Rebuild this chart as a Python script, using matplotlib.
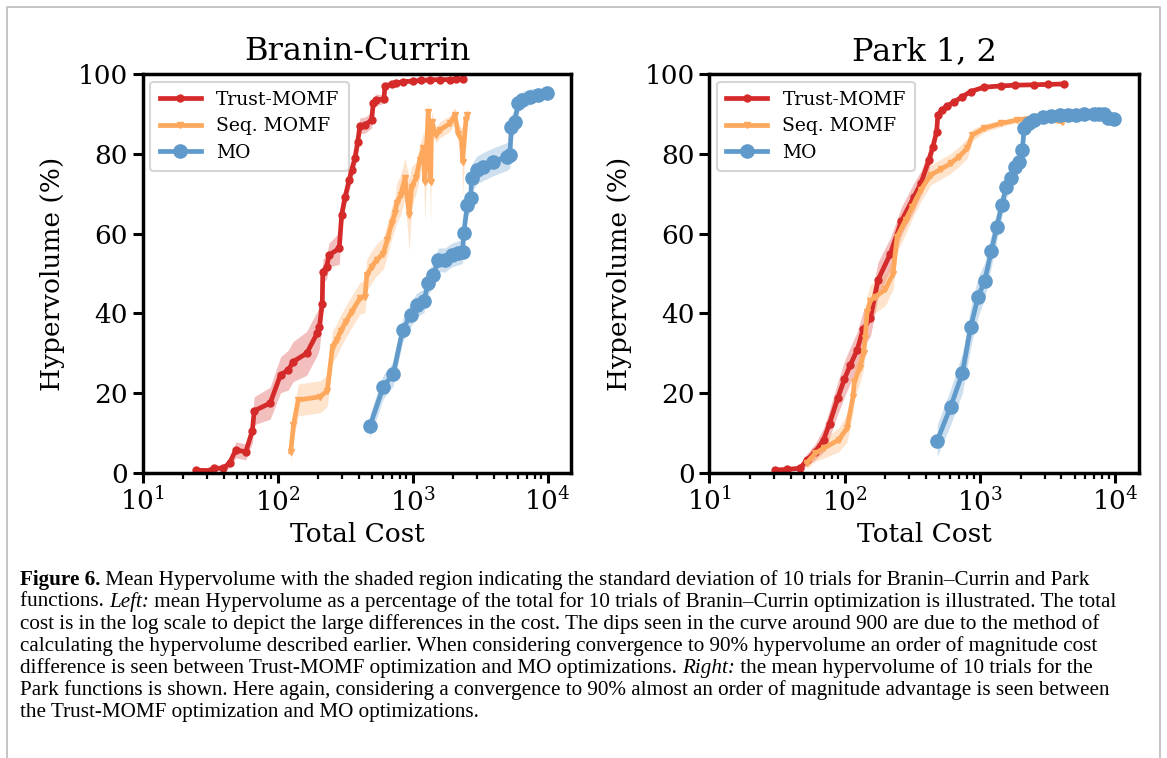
import numpy as np
import matplotlib
matplotlib.use("Agg")
import matplotlib.pyplot as plt
from matplotlib.lines import Line2D

plt.rcParams["font.family"] = "DejaVu Serif"
plt.rcParams["mathtext.fontset"] = "dejavuserif"

# ---------------- data ----------------
# Branin-Currin
bc_trust_cost = [25, 31.5, 34, 39.5, 44, 49, 58, 65, 67, 88, 105, 120, 130, 164, 196, 204,
                 214, 216, 231, 240, 286, 298, 316, 339, 353, 374, 392, 407, 444, 497, 511,
                 535, 613, 624, 700, 759, 850, 1000, 1150, 1343, 1600, 1900, 2100, 2370]
bc_trust_hv = [0.7, 0.6, 1.2, 1.2, 2.5, 5.8, 5.3, 10.6, 15.6, 17.5, 24.6, 25.8, 27.9, 30.0, 35.0, 36.7,
               42.4, 50.5, 51.7, 54.6, 56.3, 64.7, 69.2, 73.4, 75.9, 78.9, 83.0, 87.0, 87.2, 88.5, 92.7,
               93.5, 93.7, 97.0, 97.5, 97.7, 98.1, 98.2, 98.4, 98.5, 98.6, 98.6, 98.7, 98.8]
bc_trust_std = [0.3, 0.3, 0.5, 0.6, 1.2, 2.0, 2.0, 3.0, 3.5, 4.0, 4.5, 5.0, 5.0, 5.5, 5.5, 5.5,
                4.0, 3.0, 3.0, 3.0, 4.0, 3.0, 2.5, 2.5, 2.5, 2.5, 2.5, 2.0, 2.0, 2.0, 1.5,
                1.5, 1.0, 0.8, 0.6, 0.5, 0.4, 0.4, 0.3, 0.3, 0.3, 0.3, 0.3, 0.3]

bc_seq_cost = [125, 131, 142, 206, 233, 255, 273, 294, 320, 353, 407, 444, 457, 497, 541, 606,
               649, 699, 739, 761, 815, 877, 944, 984, 1058, 1132, 1200, 1233, 1306, 1360, 1383,
               1489, 1592, 1889, 2057, 2178, 2307, 2344, 2483, 2540]
bc_seq_hv = [5.3, 12.0, 18.3, 19.1, 20.6, 31.7, 33.3, 35.7, 37.9, 40.4, 43.8, 44.2, 49.6, 51.7, 53.4, 55.0,
             58.4, 62.6, 65.1, 67.6, 69.7, 73.9, 64.7, 71.8, 73.9, 78.4, 81.4, 73.0, 90.6, 73.0, 88.0,
             84.7, 86.0, 87.6, 89.7, 85.0, 83.5, 78.0, 88.5, 89.7]
bc_seq_std = [3.0, 3.5, 4.0, 4.0, 4.0, 4.0, 4.0, 4.0, 4.0, 4.0, 4.0, 4.0, 4.0, 4.0, 4.0, 4.0,
              4.0, 4.0, 4.0, 5.0, 5.0, 5.0, 9.0, 5.0, 4.0, 4.0, 4.0, 10.0, 2.5, 11.0, 2.5,
              2.0, 2.0, 2.0, 2.0, 2.5, 3.0, 9.0, 2.0, 2.0]

bc_mo_cost = [483, 606, 718, 843, 966, 1071, 1213, 1306, 1423, 1550, 1737, 1946, 2178, 2344, 2397,
              2537, 2689, 2737, 2979, 3336, 3956, 4970, 5250, 5400, 5700, 6050, 6500, 7400, 8500, 9840]
bc_mo_hv = [11.8, 21.6, 24.8, 35.8, 39.6, 42.1, 43.2, 47.7, 49.6, 53.4, 53.4, 54.6, 55.2, 55.5, 60.2,
            67.2, 68.8, 73.9, 75.9, 76.8, 78.0, 79.3, 79.8, 86.8, 88.0, 92.7, 93.5, 94.3, 94.8, 95.2]
bc_mo_std = [3.0, 3.0, 3.0, 3.0, 3.0, 3.0, 3.0, 3.0, 3.0, 3.0, 3.0, 3.0, 3.0, 3.0, 3.0,
             3.0, 3.0, 3.5, 3.5, 3.5, 3.5, 3.5, 3.5, 3.0, 3.0, 2.5, 2.0, 2.0, 1.5, 1.5]

# Park 1, 2
pk_trust_cost = [30.7, 37.4, 47, 52.6, 60.6, 69.9, 77.4, 88.8, 99.5, 110, 123.6, 136.9, 155, 176.6,
                 218, 263, 324, 368, 419, 449, 478, 489, 526, 574, 642, 741, 853, 1071, 1423,
                 1800, 2512, 3200, 4190]
pk_trust_hv = [0.75, 0.9, 1.2, 3.3, 5.3, 8.3, 12.4, 18.7, 23.5, 27.0, 30.8, 36.0, 38.8, 48.4,
               55.0, 63.2, 69.1, 72.8, 78.4, 81.8, 85.5, 89.7, 91.1, 92.0, 93.0, 94.3, 95.6, 96.7, 97.0,
               97.2, 97.3, 97.4, 97.5]
pk_trust_std = [0.3, 0.4, 0.6, 1.5, 2.0, 3.0, 3.5, 4.0, 4.5, 4.5, 4.5, 4.5, 4.5, 4.5,
                4.0, 3.5, 3.5, 3.0, 2.5, 2.0, 1.5, 1.2, 1.0, 0.8, 0.6, 0.5, 0.4, 0.3, 0.3,
                0.3, 0.3, 0.3, 0.3]

pk_seq_cost = [52.6, 60.6, 70, 90.3, 104, 115.4, 118, 129, 138, 142, 146.4, 155, 169, 200, 228, 244,
               282, 316, 364, 432, 512, 607, 700, 807, 879, 1071, 1423, 1891, 2512, 4070]
pk_seq_hv = [2.6, 4.9, 6.2, 8.3, 11.2, 19.1, 22.9, 26.2, 30.0, 33.8, 40.4, 43.2, 44.2, 46.0, 50.0, 59.2,
             63.4, 66.7, 70.9, 74.7, 76.1, 77.6, 79.3, 81.4, 84.7, 86.4, 87.6, 88.5, 89.1, 88.0]
pk_seq_std = [1.5, 2.0, 2.5, 3.0, 3.5, 4.0, 4.0, 4.0, 4.0, 4.0, 4.0, 4.0, 4.0, 4.0, 4.0, 4.0,
              3.5, 3.0, 3.0, 2.5, 2.5, 2.5, 2.5, 2.5, 1.5, 1.0, 0.8, 0.6, 0.5, 0.5]

pk_mo_cost = [483, 607, 741, 853, 966, 1084, 1214, 1330, 1449, 1560, 1688, 1808, 1945, 2060, 2118,
              2300, 2512, 2900, 3342, 3900, 4440, 5100, 5890, 6900, 7600, 8290, 8900, 9840]
pk_mo_hv = [8.1, 16.6, 25.0, 36.5, 44.0, 48.2, 55.7, 61.7, 67.2, 71.6, 73.9, 76.6, 78.0, 81.0, 86.4,
            87.8, 88.5, 89.2, 89.5, 89.6, 89.7, 89.8, 89.9, 89.9, 89.9, 89.9, 88.9, 88.6]
pk_mo_std = [4.0, 4.5, 5.0, 5.0, 5.0, 4.5, 4.0, 3.5, 3.0, 3.0, 2.5, 2.5, 2.0, 2.0, 1.5,
             1.0, 1.0, 0.8, 0.6, 0.5, 0.5, 0.5, 0.5, 0.5, 0.5, 0.5, 0.5, 0.5]

caption_lines = [
    [("Figure 6.", "bold"), (" Mean Hypervolume with the shaded region indicating the standard deviation of 10 trials for Branin\u2013Currin and Park", "normal")],
    [("functions. ", "normal"), ("Left:", "italic"), (" mean Hypervolume as a percentage of the total for 10 trials of Branin\u2013Currin optimization is illustrated. The total", "normal")],
    [("cost is in the log scale to depict the large differences in the cost. The dips seen in the curve around 900 are due to the method of", "normal")],
    [("calculating the hypervolume described earlier. When considering convergence to 90% hypervolume an order of magnitude cost", "normal")],
    [("difference is seen between Trust-MOMF optimization and MO optimizations. ", "normal"), ("Right:", "italic"), (" the mean hypervolume of 10 trials for the", "normal")],
    [("Park functions is shown. Here again, considering a convergence to 90% almost an order of magnitude advantage is seen between", "normal")],
    [("the Trust-MOMF optimization and MO optimizations.", "normal")],
]

RED = "#d42a29"
ORANGE = "#fda85c"
BLUE = "#5f9acb"

W, H = 1167, 758
fig = plt.figure(figsize=(W / 100, H / 100), dpi=100)

# page frame (gray border lines)
fig.add_artist(Line2D([7 / W, 7 / W, 1160 / W, 1160 / W], [0, 1 - 6.5 / H, 1 - 6.5 / H, 0],
                      color="#c4c4c4", lw=1.4, transform=fig.transFigure))

ax_l = fig.add_axes([142.7 / W, 285 / H, 428.5 / W, 399 / H])
ax_r = fig.add_axes([709.3 / W, 285 / H, 429.7 / W, 399 / H])


def draw_series(ax, cost, hv, std, color, marker, ms, label):
    cost = np.array(cost)
    hv = np.array(hv)
    std = np.array(std)
    ax.fill_between(cost, hv - std, hv + std, color=color, alpha=0.3, lw=0)
    ax.plot(cost, hv, color=color, lw=3.4, marker=marker, ms=ms, label=label)


for ax, title, series in [
    (ax_l, "Branin-Currin", [(bc_trust_cost, bc_trust_hv, bc_trust_std),
                             (bc_seq_cost, bc_seq_hv, bc_seq_std),
                             (bc_mo_cost, bc_mo_hv, bc_mo_std)]),
    (ax_r, "Park 1, 2", [(pk_trust_cost, pk_trust_hv, pk_trust_std),
                         (pk_seq_cost, pk_seq_hv, pk_seq_std),
                         (pk_mo_cost, pk_mo_hv, pk_mo_std)]),
]:
    (tc, th, ts), (sc, sh, ss), (mc, mh, ms_) = series
    draw_series(ax, tc, th, ts, RED, "o", 5, "Trust-MOMF")
    draw_series(ax, sc, sh, ss, ORANGE, "v", 5, "Seq. MOMF")
    draw_series(ax, mc, mh, ms_, BLUE, "o", 9.5, "MO")

    ax.set_xscale("log")
    ax.set_xlim(10, 10 ** 4.175)
    ax.set_ylim(0, 100)
    ax.set_yticks([0, 20, 40, 60, 80, 100])
    ax.set_title(title, fontsize=23, pad=10)
    ax.set_xlabel("Total Cost", fontsize=19, labelpad=4)
    ax.set_ylabel("Hypervolume (%)", fontsize=19, labelpad=9)
    ax.tick_params(which="major", labelsize=19, length=7, width=2.2)
    ax.tick_params(which="minor", length=4, width=1.6)
    for sp in ax.spines.values():
        sp.set_linewidth(2.5)
    leg = ax.legend(loc="upper left", fontsize=13.5, frameon=True, fancybox=True,
                    edgecolor="#cccccc", handlelength=2.2, borderpad=0.5,
                    labelspacing=0.45, borderaxespad=0.4)
    leg.get_frame().set_linewidth(1.5)

# caption with mixed styles, drawn segment by segment
renderer = fig.canvas.get_renderer()
cap_size = 15.2
y0 = 580
for i, line in enumerate(caption_lines):
    x = 20 / W
    y = 1 - (y0 + 22 * i) / H
    for text, style in line:
        weight = "bold" if style == "bold" else "normal"
        fstyle = "italic" if style == "italic" else "normal"
        t = fig.text(x, y, text, fontsize=cap_size, family="Liberation Serif",
                     weight=weight, style=fstyle, va="center", ha="left")
        bb = t.get_window_extent(renderer)
        x = bb.x1 / W

fig.savefig("out.png", dpi=100)
